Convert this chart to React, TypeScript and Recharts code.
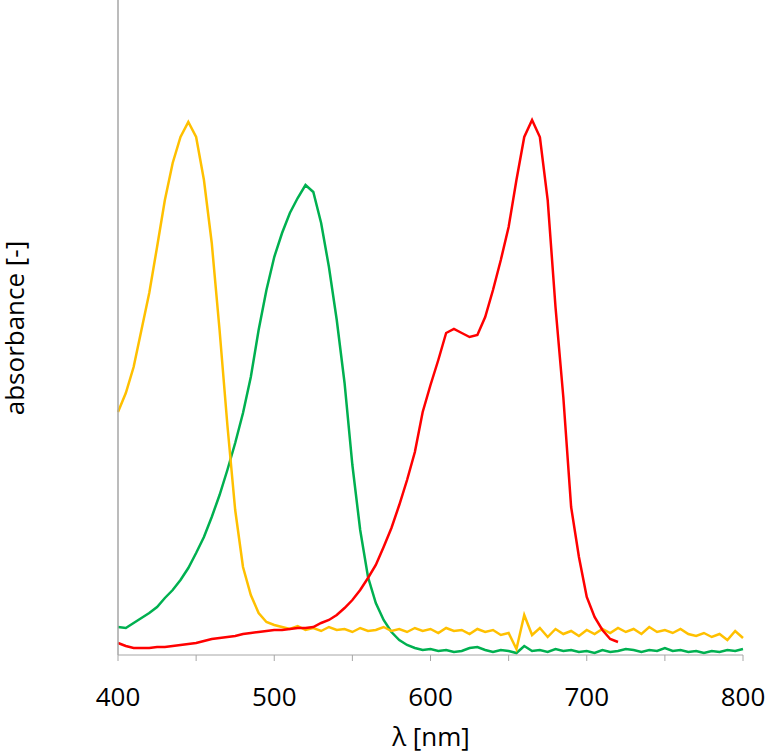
import { LineChart, Line, XAxis, YAxis } from 'recharts'

// wavelength grid, 5 nm steps from 400 to 800
const wavelengths = Array.from({ length: 81 }, (_, i) => 400 + i * 5)

const xTicks = [400, 450, 500, 550, 600, 650, 700, 750, 800]

// absorbance (arbitrary units)
const yellow = [
  2.43, 2.62, 2.88, 3.25, 3.62, 4.08, 4.55, 4.92, 5.18, 5.33,
  5.18, 4.75, 4.12, 3.25, 2.3, 1.45, 0.88, 0.6, 0.42, 0.33,
  0.3, 0.28, 0.26, 0.29, 0.25, 0.27, 0.24, 0.28, 0.25, 0.26,
  0.23, 0.27, 0.24, 0.25, 0.28, 0.24, 0.26, 0.23, 0.27, 0.24,
  0.26, 0.22, 0.27, 0.24, 0.25, 0.21, 0.26, 0.23, 0.25, 0.2,
  0.22, 0.06, 0.4, 0.2, 0.27, 0.18, 0.26, 0.21, 0.24, 0.19,
  0.25, 0.21, 0.26, 0.22, 0.27, 0.23, 0.26, 0.21, 0.28, 0.23,
  0.25, 0.22, 0.26, 0.21, 0.19, 0.22, 0.18, 0.21, 0.15, 0.24,
  0.17,
]

const green = [
  0.28, 0.27, 0.32, 0.37, 0.42, 0.48, 0.57, 0.65, 0.75, 0.87,
  1.02, 1.18, 1.38, 1.6, 1.85, 2.12, 2.42, 2.78, 3.25, 3.65,
  3.98, 4.22, 4.42, 4.57, 4.7, 4.63, 4.32, 3.88, 3.35, 2.72,
  1.9, 1.25, 0.78, 0.52, 0.35, 0.23, 0.15, 0.1, 0.07, 0.05,
  0.06, 0.04, 0.05, 0.03, 0.04, 0.07, 0.08, 0.05, 0.03, 0.05,
  0.04, 0.02, 0.09, 0.04, 0.05, 0.03, 0.06, 0.04, 0.05, 0.03,
  0.04, 0.02, 0.05, 0.03, 0.04, 0.06, 0.05, 0.03, 0.05, 0.04,
  0.07, 0.04, 0.05, 0.03, 0.04, 0.02, 0.04, 0.03, 0.05, 0.04,
  0.06,
]

// red stops at 720 nm
const red = [
  0.12, 0.09, 0.07, 0.07, 0.07, 0.08, 0.08, 0.09, 0.1, 0.11,
  0.12, 0.14, 0.16, 0.17, 0.18, 0.19, 0.21, 0.22, 0.23, 0.24,
  0.25, 0.25, 0.26, 0.27, 0.27, 0.28, 0.32, 0.35, 0.4, 0.47,
  0.55, 0.65, 0.77, 0.9, 1.08, 1.27, 1.5, 1.75, 2.03, 2.43,
  2.7, 2.95, 3.22, 3.26, 3.22, 3.18, 3.2, 3.38, 3.65, 3.95,
  4.28, 4.75, 5.18, 5.35, 5.18, 4.55, 3.48, 2.58, 1.48, 0.98,
  0.58, 0.38, 0.25, 0.16, 0.13,
]

const rows = wavelengths.map((nm, i) => ({
  nm,
  yellow: yellow[i],
  green: green[i],
  red: i < red.length ? red[i] : null,
}))

const axisGray = '#a6a6a6'

export default function App() {
  return (
    <div style={{ position: 'absolute', left: 0, top: 0, width: 768, height: 753, background: '#fff', fontFamily: '"Open Sans", sans-serif', color: '#000' }}>
      <LineChart width={768} height={753} data={rows} margin={{ top: 0, right: 25, bottom: 68, left: 117 }}>
        <XAxis
          type="number"
          dataKey="nm"
          domain={[400, 800]}
          ticks={xTicks}
          interval={0}
          tickFormatter={(v) => (v % 100 === 0 ? String(v) : '')}
          axisLine={{ stroke: axisGray }}
          tickLine={{ stroke: axisGray }}
          tickSize={6}
          tickMargin={27}
          tick={{ fill: '#000', fontSize: 26 }}
          height={30}
        />
        <YAxis
          type="number"
          domain={[0, 6.55]}
          tick={false}
          tickLine={false}
          axisLine={{ stroke: axisGray, strokeWidth: 1.5 }}
          width={1}
        />
        <Line type="linear" dataKey="green" stroke="#00b050" strokeWidth={2.5} dot={false} isAnimationActive={false} />
        <Line type="linear" dataKey="yellow" stroke="#ffc000" strokeWidth={2.5} dot={false} isAnimationActive={false} />
        <Line type="linear" dataKey="red" stroke="#ff0000" strokeWidth={2.5} dot={false} isAnimationActive={false} />
      </LineChart>
      <div style={{ position: 'absolute', left: 0, width: 768, top: 723, textAlign: 'center', fontSize: 26, lineHeight: 1, whiteSpace: 'nowrap' }}>
        <span style={{ position: 'relative', left: 431 - 384 }}>λ [nm]</span>
      </div>
      <div style={{ position: 'absolute', left: 1, top: 328, transform: 'translateY(-50%) rotate(180deg)', writingMode: 'vertical-rl', fontSize: 26, lineHeight: 1, whiteSpace: 'nowrap' }}>
        absorbance [-]
      </div>
    </div>
  )
}
